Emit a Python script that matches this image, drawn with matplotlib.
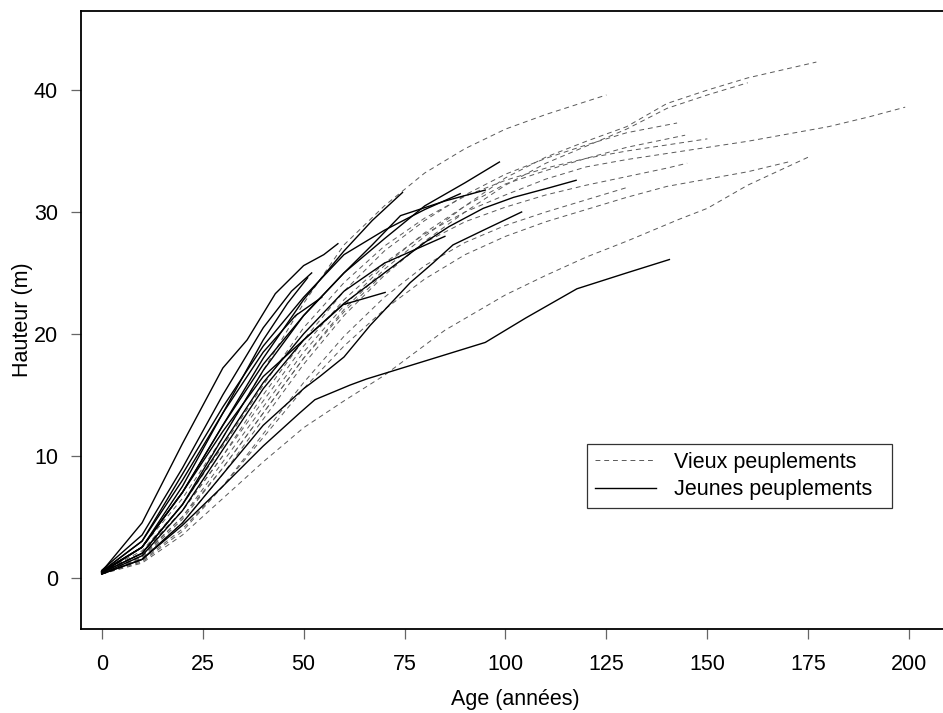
import matplotlib
matplotlib.use('Agg')
import matplotlib.pyplot as plt

plt.rcParams['font.family'] = ['Liberation Sans', 'DejaVu Sans']

# vieux peuplements (dashed) - age (années) and hauteur (m)
vieux_ages = [
    [0, 10, 20, 30, 40, 50, 60, 70, 80, 90, 100, 110, 125],
    [0, 10, 20, 30, 40, 50, 60, 70, 80, 90, 100, 110, 120, 130, 140, 150, 160, 177],
    [0, 10, 20, 30, 40, 50, 60, 70, 80, 90, 100, 110, 120, 130, 140, 150, 160],
    [0, 10, 20, 30, 40, 50, 60, 70, 80, 90, 100, 110, 120, 130, 142.5],
    [0, 10, 20, 30, 40, 50, 60, 70, 80, 90, 100, 110, 120, 130, 144.5],
    [0, 10, 20, 30, 40, 50, 60, 70, 80, 90, 100, 110, 120, 130, 140, 150, 160, 170, 180, 190, 199],
    [0, 10, 20, 30, 40, 50, 60, 70, 80, 90, 100, 110, 120, 130, 140, 150, 160, 170],
    [0, 10, 20, 30, 40, 50, 60, 70, 85, 100, 110, 120, 130, 143, 150, 160, 175],
    [0, 10, 20, 30, 40, 50, 60, 70, 80, 90, 100, 110, 120, 130, 140, 145],
    [0, 10, 20, 30, 40, 50, 60, 70, 80, 90, 100, 110, 120, 130],
    [0, 10, 20, 30, 40, 50, 60, 70, 80, 90, 100, 110, 120, 130, 140, 150],
]
vieux_h = [
    [0.5, 2.5, 6.5, 11.5, 17, 22.5, 27.3, 30.5, 33.2, 35.2, 36.8, 38, 39.6],
    [0.4, 1.8, 5, 9, 13.5, 18, 22, 25.3, 28, 30.5, 32.8, 34.5, 35.8, 37, 38.9, 40, 41, 42.3],
    [0.3, 1.5, 4.5, 8.5, 13, 17.5, 21.5, 24.8, 27.6, 30, 32.2, 34, 35.4, 36.8, 38.5, 39.6, 40.6],
    [0.5, 2, 5.5, 10, 15, 19.5, 23.5, 26.8, 29.3, 31.4, 33.1, 34.4, 35.5, 36.5, 37.3],
    [0.4, 1.7, 5, 9.5, 14, 18.5, 22.3, 25.6, 28.3, 30.5, 32.3, 33.4, 34.4, 35.3, 36.3],
    [0.5, 2, 5.5, 10, 14.5, 19, 22.8, 25.8, 28.2, 30, 31.4, 32.7, 33.7, 34.3, 34.8, 35.3, 35.8, 36.4, 37, 37.8, 38.6],
    [0.3, 1.4, 4, 7.5, 11.5, 15.5, 19, 22, 24.5, 26.5, 28, 29.2, 30.2, 31.2, 32.1, 32.7, 33.3, 34.1],
    [0.3, 1.2, 3.5, 6.5, 9.5, 12.3, 14.5, 16.6, 20.3, 23.2, 24.8, 26.3, 27.6, 29.4, 30.3, 32.2, 34.5],
    [0.4, 1.6, 4.8, 9, 13.5, 18, 21.8, 25, 27.5, 29.2, 30.4, 31.4, 32.2, 32.9, 33.6, 34.0],
    [0.3, 1.3, 3.8, 7.5, 11.8, 16, 19.8, 23, 25.6, 27.5, 28.9, 30, 31, 32],
    [0.5, 2.2, 6, 10.8, 15.8, 20.5, 24.2, 27.2, 29.5, 31.3, 32.6, 33.6, 34.4, 35, 35.5, 36],
]

# jeunes peuplements (solid)
jeunes_ages = [
    [0, 10, 20, 30, 36, 43, 50, 55, 58.5],
    [0, 10, 20, 30, 40, 46, 51],
    [0, 10, 20, 30, 40, 50, 60, 67, 74.5],
    [0, 10, 20, 30, 40, 50, 60, 70, 80, 90, 98.5],
    [0, 10, 20, 30, 40, 50, 60, 67, 74, 85, 95],
    [0, 10, 20, 30, 40, 50, 60, 70, 80, 86, 94.5, 102, 111, 117.5],
    [0, 10, 20, 30, 40, 50, 54, 60, 66.5, 76.4, 82, 87, 94.5, 104],
    [0, 10, 20, 30, 40, 49, 52.8, 61.5, 65.6, 81.3, 95, 105, 117.7, 130, 140.6],
    [0, 10, 20, 30, 40, 50, 59.8, 70.2],
    [0, 10, 20, 30, 40, 48, 54.5],
    [0, 10, 20, 30, 40, 47, 52],
    [0, 10, 20, 30, 40, 50, 60, 70, 80, 88.8],
    [0, 10, 20, 30, 40, 50, 60, 70, 85],
]
jeunes_h = [
    [0.5, 4.5, 11, 17.2, 19.5, 23.3, 25.6, 26.5, 27.4],
    [0.4, 2.5, 7.5, 13.5, 19.5, 22.5, 24.6],
    [0.4, 2.5, 7, 12.5, 18, 22.8, 26.8, 29.3, 31.6],
    [0.4, 2, 6, 11.5, 17, 21.5, 25, 27.8, 30.5, 32.4, 34.1],
    [0.5, 2.5, 7, 12.5, 17.5, 21.5, 25, 27.3, 29.7, 30.9, 31.8],
    [0.3, 1.8, 5.5, 10.5, 15.5, 19.5, 22.5, 25, 27.5, 28.8, 30.3, 31.2, 32, 32.6],
    [0.3, 1.5, 4.5, 8.5, 12.5, 15.5, 16.5, 18.1, 20.7, 24.2, 25.8, 27.3, 28.5, 30],
    [0.3, 1.5, 4.3, 7.5, 10.8, 13.5, 14.6, 15.8, 16.3, 17.9, 19.3, 21.3, 23.7, 25, 26.1],
    [0.5, 2.5, 7, 12, 16.5, 19.5, 22.4, 23.4],
    [0.5, 3, 8, 13.5, 18.5, 21.5, 23],
    [0.6, 3.5, 9, 15, 20.5, 23.5, 25],
    [0.5, 3, 8.5, 14, 19, 23, 26.5, 28.5, 30.2, 31.5],
    [0.4, 2, 6, 11, 16, 20, 23.5, 25.8, 28],
]

x_ticks = [0, 25, 50, 75, 100, 125, 150, 175, 200]
y_ticks = [0, 10, 20, 30, 40]

fig = plt.figure(figsize=(9.43, 7.13), dpi=100)
ax = fig.add_axes([81 / 943, (713 - 628.5) / 713, (950 - 81) / 943, (628.5 - 10.5) / 713])

for i in range(len(vieux_ages)):
    ax.plot(vieux_ages[i], vieux_h[i], color='0.35', lw=0.7, linestyle=(0, (5, 4)),
            label='Vieux peuplements' if i == 0 else None)
for i in range(len(jeunes_ages)):
    ax.plot(jeunes_ages[i], jeunes_h[i], color='black', lw=1.0,
            label='Jeunes peuplements' if i == 0 else None)

ax.set_xlim(-5.13, 210.1)
ax.set_ylim(-4.17, 46.53)
ax.set_xticks(x_ticks)
ax.set_yticks(y_ticks)
ax.spines['right'].set_visible(False)
for s in ['left', 'top', 'bottom']:
    ax.spines[s].set_linewidth(1.3)
ax.tick_params(direction='out', length=7.5, width=0.9, color='0.4', labelsize=15.5)
ax.tick_params(axis='x', pad=11)
ax.tick_params(axis='y', pad=9)

ax.set_xlabel('Age (années)', fontsize=15.5, labelpad=10)
ax.set_ylabel('Hauteur (m)', fontsize=15.5, labelpad=1)

# legend box spans roughly x 587-892 px, top at 444 px
leg_h = 0.01
leg = ax.legend(loc='upper left',
                bbox_to_anchor=(587.3 / 943, (713 - 444) / 713 - leg_h, (892 - 587.3) / 943, leg_h),
                bbox_transform=fig.transFigure, mode='expand', fontsize=15.5, frameon=True,
                fancybox=False, edgecolor='black', handlelength=2.85, handletextpad=0.85,
                borderpad=0.35, labelspacing=0.32, borderaxespad=0)
leg.get_frame().set_linewidth(0.9)

fig.savefig('out.png', dpi=100)
